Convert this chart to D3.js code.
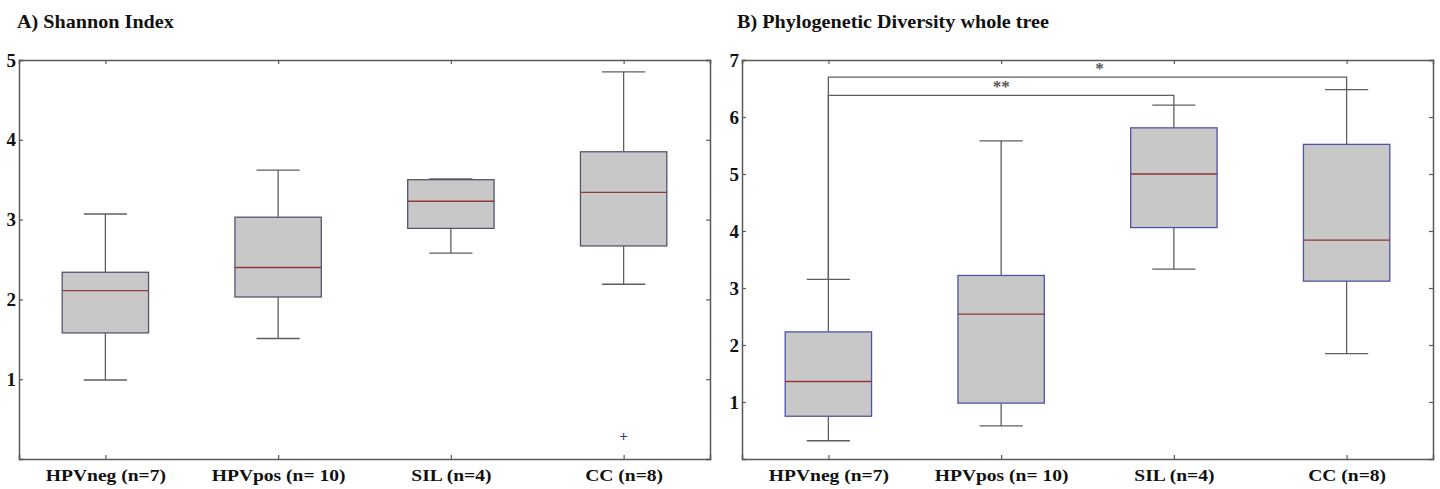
<!DOCTYPE html>
<html><head><meta charset="utf-8">
<script src="https://cdn.jsdelivr.net/npm/d3@7"></script>
<style>
html,body{margin:0;padding:0;background:#fff;}
svg text{font-family:"Liberation Serif","Times New Roman",serif;font-weight:bold;fill:#111;}
</style></head>
<body>
<svg id="chart" width="1440" height="489"></svg>
<script>
// ---------- DATA ----------
const categories = ["HPVneg (n=7)", "HPVpos (n= 10)", "SIL (n=4)", "CC (n=8)"];

// Panel A: Shannon Index
const titleA = "A) Shannon Index";
const yTicksA = [1, 2, 3, 4, 5];
const whiskerLowA  = [0.99, 1.51, 2.58, 2.19];
const q1A          = [1.58, 2.03, 2.89, 2.67];
const medianA      = [2.11, 2.40, 3.23, 3.34];
const q3A          = [2.34, 3.03, 3.50, 3.85];
const whiskerHighA = [3.07, 3.62, 3.51, 4.85];
const outliersA    = [[], [], [], [0.29]];

// Panel B: Phylogenetic Diversity whole tree
const titleB = "B) Phylogenetic Diversity whole tree";
const yTicksB = [1, 2, 3, 4, 5, 6, 7];
const whiskerLowB  = [0.32, 0.58, 3.33, 1.85];
const q1B          = [0.75, 0.98, 4.06, 3.12];
const medianB      = [1.36, 2.54, 5.00, 3.84];
const q3B          = [2.23, 3.22, 5.81, 5.52];
const whiskerHighB = [3.15, 5.58, 6.21, 6.48];
const outliersB    = [[], [], [], []];

// significance brackets (group indices, bracket level, label, label x position)
const sigFrom  = [0, 0];
const sigTo    = [2, 3];
const sigLevel = [6.38, 6.70];
const sigLabel = ["**", "*"];
const sigLabelX = [2.0, 2.57];

// ---------- DRAW ----------
const svg = d3.select("#chart");
const axisColor = "#5a5a5a";
const stretch = 1.12;

function panel(opts) {
  const {left, right, top, bottom, ymax, ticks, title, titleX,
         wl, q1, med, q3, wh, outl, boxStroke, medColor, sig} = opts;
  const g = svg.append("g");
  const x = d3.scaleLinear().domain([0.5, categories.length + 0.5]).range([left, right]);
  const y = d3.scaleLinear().domain([0, ymax]).range([bottom, top]);

  // title
  g.append("text").attr("transform", `translate(${titleX},28) scale(${stretch},1)`)
    .attr("font-size", 18).text(title);

  // boxes
  const bw = 0.25, cw = 0.125;
  const wColor = "#5e5e5e";
  categories.forEach((c, i) => {
    const cx = i + 1;
    g.append("line").attr("x1", x(cx)).attr("x2", x(cx)).attr("y1", y(q3[i])).attr("y2", y(wh[i]))
      .attr("stroke", wColor).attr("stroke-width", 1.3);
    g.append("line").attr("x1", x(cx)).attr("x2", x(cx)).attr("y1", y(q1[i])).attr("y2", y(wl[i]))
      .attr("stroke", wColor).attr("stroke-width", 1.3);
    g.append("line").attr("x1", x(cx - cw)).attr("x2", x(cx + cw)).attr("y1", y(wh[i])).attr("y2", y(wh[i]))
      .attr("stroke", wColor).attr("stroke-width", 1.3);
    g.append("line").attr("x1", x(cx - cw)).attr("x2", x(cx + cw)).attr("y1", y(wl[i])).attr("y2", y(wl[i]))
      .attr("stroke", wColor).attr("stroke-width", 1.3);
    g.append("rect").attr("x", x(cx - bw)).attr("y", y(q3[i]))
      .attr("width", x(cx + bw) - x(cx - bw)).attr("height", y(q1[i]) - y(q3[i]))
      .attr("fill", "#c8c8c8").attr("stroke", boxStroke).attr("stroke-width", 1.3);
    g.append("line").attr("x1", x(cx - bw)).attr("x2", x(cx + bw)).attr("y1", y(med[i])).attr("y2", y(med[i]))
      .attr("stroke", medColor).attr("stroke-width", 1.3);
    outl[i].forEach(v => {
      g.append("text").attr("x", x(cx)).attr("y", y(v)).attr("dy", "0.35em")
        .attr("text-anchor", "middle").attr("font-size", 15).attr("font-weight", "normal")
        .style("fill", "#3a3a8a").text("+");
    });
  });

  // significance brackets
  if (sig) {
    sig.from.forEach((f, k) => {
      const t = sig.to[k], lv = sig.level[k];
      const path = d3.path();
      path.moveTo(x(f + 1), y(wh[f]));
      path.lineTo(x(f + 1), y(lv));
      path.lineTo(x(t + 1), y(lv));
      path.lineTo(x(t + 1), y(wh[t]));
      g.append("path").attr("d", path.toString()).attr("fill", "none")
        .attr("stroke", wColor).attr("stroke-width", 1.3);
      g.append("text").attr("x", x(sig.labelX[k])).attr("y", y(lv) - 3)
        .attr("text-anchor", "middle").attr("font-size", 17).attr("font-weight", "normal")
        .style("fill", "#555").text(sig.label[k]);
    });
  }

  // frame axes (ticks inward)
  const tickLen = 4;
  const catTicks = categories.map((c, i) => i + 1);
  const axB = d3.axisBottom(x).tickValues(catTicks).tickFormat((d) => categories[d - 1]).tickSize(-tickLen).tickPadding(10);
  const axT = d3.axisTop(x).tickValues(catTicks).tickFormat("").tickSize(-tickLen);
  const axL = d3.axisLeft(y).tickValues(ticks).tickFormat(d3.format("d")).tickSize(-tickLen).tickPadding(3);
  const axR = d3.axisRight(y).tickValues(ticks).tickFormat("").tickSize(-tickLen);

  const gb = g.append("g").attr("transform", `translate(0,${bottom})`).call(axB);
  const gt = g.append("g").attr("transform", `translate(0,${top})`).call(axT);
  const gl = g.append("g").attr("transform", `translate(${left},0)`).call(axL);
  const gr = g.append("g").attr("transform", `translate(${right},0)`).call(axR);
  [gb, gt, gl, gr].forEach(a => {
    a.select(".domain").attr("stroke", axisColor).attr("stroke-width", 1.5);
    a.selectAll(".tick line").attr("stroke", axisColor).attr("stroke-width", 1.2);
    a.selectAll("text").style("font-family", "'Liberation Serif','Times New Roman',serif")
      .style("font-weight", "bold").style("fill", "#111");
  });
  gb.selectAll("text").attr("font-size", 17).attr("transform", "scale(1.15,1)");
  gl.selectAll("text").attr("font-size", 19);
}

panel({left: 19, right: 710, top: 60, bottom: 459, ymax: 5, ticks: yTicksA,
  title: titleA, titleX: 17,
  wl: whiskerLowA, q1: q1A, med: medianA, q3: q3A, wh: whiskerHighA, outl: outliersA,
  boxStroke: "#55556e", medColor: "#8e3a3a", sig: null});

panel({left: 742, right: 1433, top: 60, bottom: 459, ymax: 7, ticks: yTicksB,
  title: titleB, titleX: 737,
  wl: whiskerLowB, q1: q1B, med: medianB, q3: q3B, wh: whiskerHighB, outl: outliersB,
  boxStroke: "#5252a8", medColor: "#933535",
  sig: {from: sigFrom, to: sigTo, level: sigLevel, label: sigLabel, labelX: sigLabelX}});
</script>
</body></html>
